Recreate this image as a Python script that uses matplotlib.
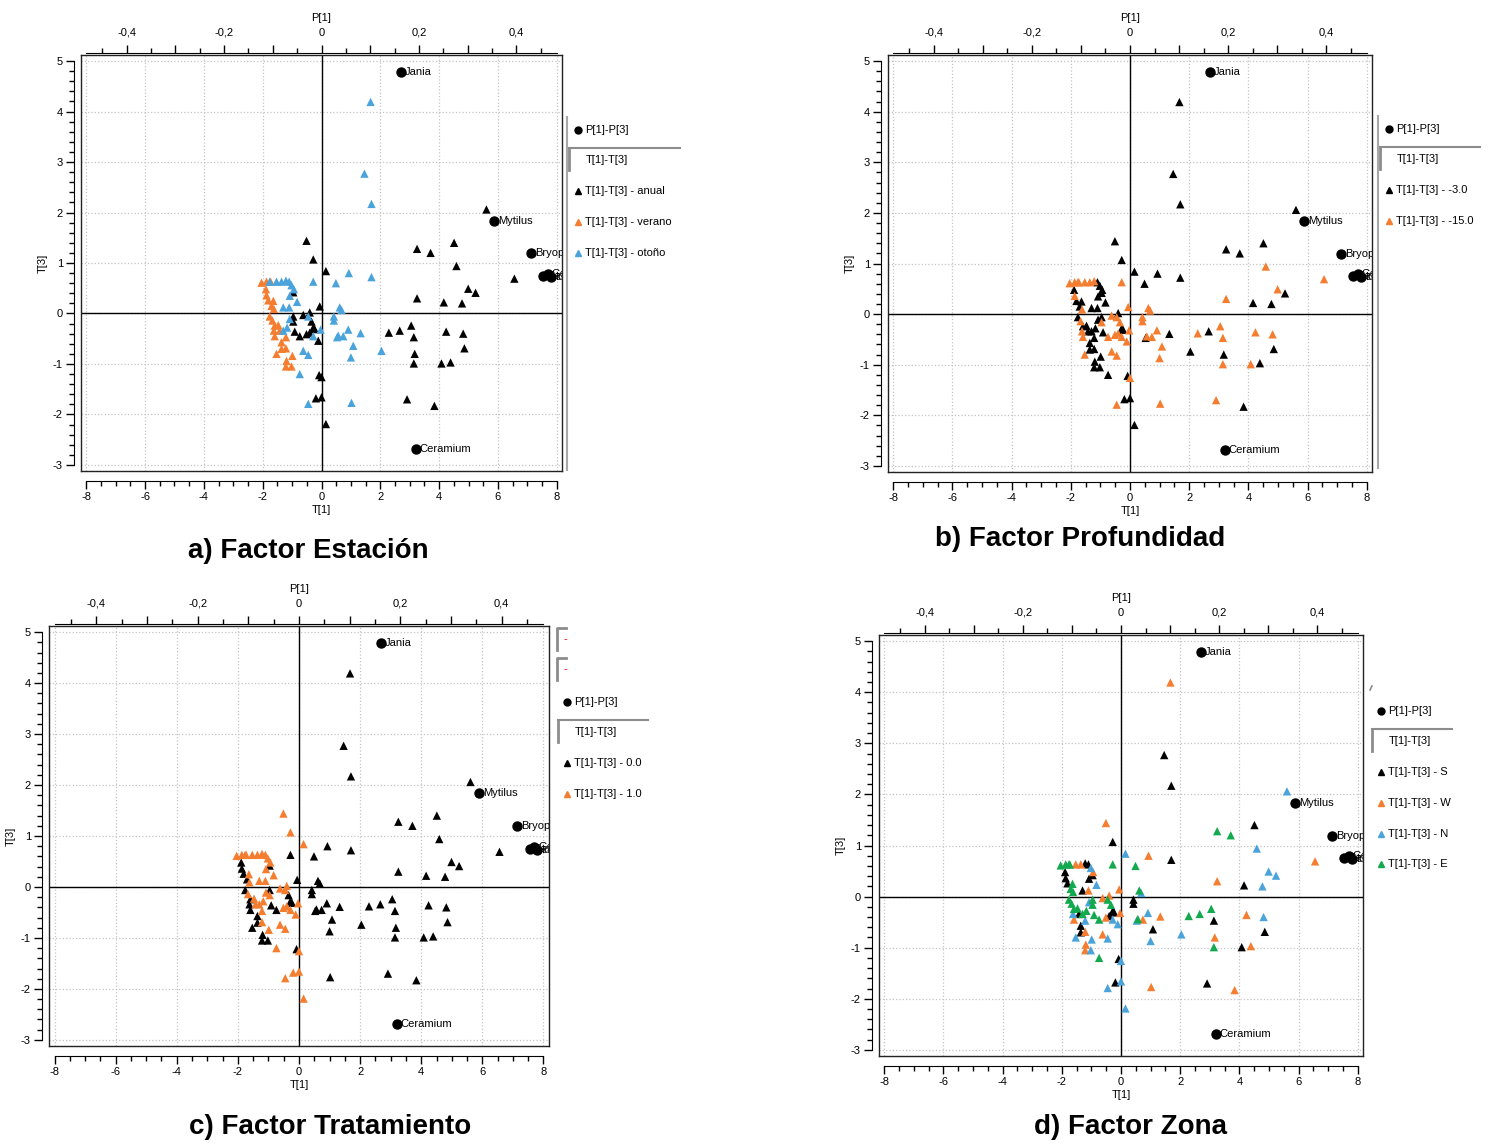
import numpy as np
import matplotlib
matplotlib.use('Agg')
import matplotlib.pyplot as plt
from matplotlib.lines import Line2D
from matplotlib.ticker import MultipleLocator, FuncFormatter
from matplotlib.transforms import offset_copy

W, H = 1491, 1144
plt.rcParams['font.family'] = ['Liberation Sans Narrow', 'Liberation Sans', 'DejaVu Sans']
plt.rcParams['axes.unicode_minus'] = False

# Scores T[1], T[3] (same samples in every panel) -------------------------------------
# anual (46) / verano (25) / otoño (41)
score_t1 = [-0.51, -0.28, 0.15, -0.96, -0.06, -0.40, -0.62, -0.96, -0.96, -0.34,
            -0.28, -0.40, -0.51, -0.74, -0.91, -0.11, -0.23, -0.08, 0.00, -0.19,
            0.00, 0.15, 5.61, 3.25, 3.71, 4.51, 4.59, 6.56, 4.99, 5.24,
            3.25, 4.16, 4.78, 2.29, 2.66, 3.05, 3.14, 4.24, 4.82, 4.86,
            3.17, 3.14, 4.08, 4.39, 2.91, 3.84,
            -2.04, -1.87, -1.73, -1.89, -1.87, -1.81, -1.64, -1.70, -1.62, -1.76,
            -1.67, -1.59, -1.47, -1.62, -1.42, -1.59, -1.21, -1.36, -1.36, -1.21,
            -1.53, -0.99, -1.19, -1.21, -1.02,
            -1.76, -1.53, -1.36, -1.21, -1.10, -1.02, -0.94, -1.08, -0.83, -1.30,
            -1.10, -0.28, 0.49, 0.93, 1.70, 0.62, 0.68, 0.42, 0.42, -1.08,
            -1.17, -1.30, -0.45, -0.03, -0.28, 0.57, 0.74, 0.91, 0.53, 1.08,
            1.33, 2.04, -0.62, -0.45, 1.00, -0.74, -0.45, 1.02, 1.67, 1.46, 1.70]
score_t3 = [1.44, 1.07, 0.84, 0.42, 0.14, 0.02, -0.03, -0.06, -0.16, -0.16,
            -0.28, -0.38, -0.41, -0.45, -0.36, -0.54, -0.31, -1.22, -1.26, -1.68,
            -1.66, -2.19, 2.06, 1.28, 1.20, 1.40, 0.94, 0.69, 0.49, 0.41,
            0.30, 0.22, 0.20, -0.38, -0.34, -0.24, -0.47, -0.36, -0.40, -0.69,
            -0.80, -0.99, -0.99, -0.97, -1.70, -1.83,
            0.61, 0.63, 0.63, 0.48, 0.36, 0.26, 0.25, 0.15, 0.09, -0.06,
            -0.14, -0.24, -0.23, -0.34, -0.34, -0.45, -0.47, -0.57, -0.70, -0.69,
            -0.80, -0.84, -0.94, -1.05, -1.05,
            0.63, 0.63, 0.63, 0.65, 0.63, 0.56, 0.48, 0.35, 0.23, 0.12,
            0.12, 0.63, 0.60, 0.80, 0.72, 0.12, 0.07, -0.06, -0.14, -0.11,
            -0.28, -0.34, -0.06, -0.32, -0.45, -0.44, -0.45, -0.32, -0.47, -0.64,
            -0.39, -0.74, -0.74, -0.82, -0.87, -1.20, -1.79, -1.77, 4.19, 2.77, 2.17]

estacion = ['anual'] * 46 + ['verano'] * 25 + ['otoño'] * 41

profundidad = [-3, -3, -3, -3, -15, -3, -15, -3, -15, -15,
               -3, -15, -15, -15, -3, -15, -3, -3, -15, -3,
               -3, -3, -3, -3, -3, -3, -15, -15, -15, -3,
               -15, -3, -3, -15, -3, -15, -15, -15, -15, -3,
               -3, -15, -15, -3, -15, -3,
               -15, -15, -15, -3, -15, -3, -3, -3, -15, -3,
               -15, -3, -3, -15, -3, -15, -3, -3, -3, -3,
               -15, -3, -3, -3, -3,
               -15, -15, -15, -15, -3, -3, -3, -3, -3, -3,
               -3, -15, -3, -3, -3, -15, -15, -15, -15, -3,
               -3, -3, -15, -15, -15, -15, -15, -15, -3, -15,
               -3, -3, -15, -15, -15, -3, -15, -15, -3, -3, -3]

tratamiento = [1, 1, 1, 0, 0, 1, 1, 0, 1, 0,
               0, 1, 1, 0, 0, 1, 0, 0, 1, 1,
               1, 1, 0, 0, 0, 0, 0, 0, 0, 0,
               0, 0, 0, 0, 0, 0, 0, 0, 0, 0,
               0, 0, 0, 0, 0, 0,
               1, 1, 1, 0, 0, 0, 1, 0, 1, 0,
               1, 0, 1, 0, 1, 0, 1, 0, 0, 1,
               0, 1, 0, 0, 0,
               1, 1, 1, 1, 1, 1, 1, 1, 1, 1,
               1, 0, 0, 0, 0, 0, 0, 0, 0, 1,
               1, 1, 1, 1, 1, 0, 0, 0, 0, 0,
               0, 0, 1, 1, 0, 1, 1, 0, 0, 0, 0]

zona = list('WSNSWWWEEE' 'SSWEENSSNS' 'NNNEESNWNN' 'WSNEEESWNS' 'WESWSW'
            'EEESSSEEEE' 'EEENSWNSSW' 'NNWWN'
            'EWWSSNWSNS' 'WEEWSENSSN' 'EEEWNEWNNS' 'WNWNNENWWSS')

# Loadings P[1]-P[3], placed on the T scale of the plot (names cut by the frame)
load_names = ['Jania', 'Mytilus', 'Bryop', 'Sa', 'Ge', 'La', 'Ceramium']
load_x = [2.69, 5.88, 7.14, 7.55, 7.69, 7.80, 3.20]
load_y = [4.78, 1.84, 1.19, 0.75, 0.79, 0.73, -2.69]

XLIM = (-8.18, 8.18)
YLIM = (-3.12, 5.12)
P_RATIO = 16.57      # T[1] units per P[1] unit on the top scale

BLACK, ORANGE, BLUE, GREEN = '#000000', '#f47d30', '#4ba3dc', '#12a94f'

fig = plt.figure(figsize=(W / 100, H / 100), dpi=100)


def fx(x):
    return x / W


def fy(y):
    return 1 - y / H


def p_fmt(v, pos):
    k = int(round(v * 10))
    if k % 2:
        return ''
    if k == 0:
        return '0'
    return ('%.1f' % (k / 10)).replace('.', ',')


def panel(frame, labels, groups, colors):
    l, t, w, h = frame
    pos = [l / W, 1 - (t + h) / H, w / W, h / H]

    ax = fig.add_axes(pos)
    ax.set_xlim(XLIM)
    ax.set_ylim(YLIM)
    ax.set_xticks(np.arange(-8, 9, 2))
    ax.set_yticks(np.arange(-3, 6, 1))
    ax.tick_params(length=0, labelbottom=False, labelleft=False)
    ax.grid(True, color='#c4c4c4', linestyle=':', linewidth=0.9)
    for s in ax.spines.values():
        s.set_linewidth(1.0)
        s.set_color('#222222')
    ax.axhline(0, color='black', lw=1.0, zorder=2)
    ax.axvline(0, color='black', lw=1.0, zorder=2)

    t1 = np.array(score_t1)
    t3 = np.array(score_t3)
    lab = np.array(labels)
    for g, c in zip(groups, colors):
        m = lab == g
        ax.scatter(t1[m], t3[m], marker='^', s=36, color=c, edgecolors='none', zorder=3)

    ax.scatter(load_x, load_y, s=42, color='black', zorder=4)
    tr = offset_copy(ax.transData, fig=fig, x=4, y=0, units='dots')
    for x, y, n in zip(load_x, load_y, load_names):
        ax.text(x, y, n, transform=tr, fontsize=8, va='center', ha='left',
                clip_on=True, zorder=5)

    # bottom / left scales, offset from the frame
    sa = fig.add_axes(pos, facecolor='none')
    sa.set_xlim(XLIM)
    sa.set_ylim(YLIM)
    sa.spines['top'].set_visible(False)
    sa.spines['right'].set_visible(False)
    sa.spines['bottom'].set_position(('outward', 7))
    sa.spines['bottom'].set_bounds(-8, 8)
    sa.spines['left'].set_position(('outward', 5))
    sa.spines['left'].set_bounds(-3, 5)
    sa.xaxis.set_major_locator(MultipleLocator(2))
    sa.xaxis.set_minor_locator(MultipleLocator(0.5))
    sa.yaxis.set_major_locator(MultipleLocator(1))
    sa.yaxis.set_minor_locator(MultipleLocator(0.2))
    sa.tick_params(which='major', length=6, width=1, labelsize=8, pad=2)
    sa.tick_params(which='minor', length=3.5, width=1)
    sa.set_xlabel('T[1]', fontsize=8, labelpad=2)
    sa.set_ylabel('T[3]', fontsize=8, labelpad=4)

    # top scale P[1]
    ta = fig.add_axes(pos, facecolor='none')
    ta.set_xlim(XLIM[0] / P_RATIO, XLIM[1] / P_RATIO)
    for k in ['bottom', 'left', 'right']:
        ta.spines[k].set_visible(False)
    ta.spines['top'].set_position(('outward', 1.5))
    ta.spines['top'].set_bounds(-8 / P_RATIO, 8 / P_RATIO)
    ta.xaxis.tick_top()
    ta.xaxis.set_label_position('top')
    ta.xaxis.set_major_locator(MultipleLocator(0.1))
    ta.xaxis.set_minor_locator(MultipleLocator(0.05))
    ta.xaxis.set_major_formatter(FuncFormatter(p_fmt))
    ta.set_yticks([])
    ta.tick_params(which='major', length=6, width=1, labelsize=8, pad=5)
    ta.tick_params(which='minor', length=3.5, width=1)
    ta.set_xlabel('P[1]', fontsize=8, labelpad=5)
    return ax


def legend(lx, py, sep_x2, texts, colors, line=None, step=30.8):
    if line is not None:
        fig.add_artist(Line2D([fx(lx), fx(lx)], [fy(line[0]), fy(line[1])],
                              color='#a8a8a8', lw=1.5))
    fig.add_artist(Line2D([fx(lx + 11)], [fy(py)], marker='o', ms=5, color='black', lw=0))
    fig.text(fx(lx + 18), fy(py), 'P[1]-P[3]', fontsize=8, va='center')
    fig.add_artist(Line2D([fx(lx + 2), fx(sep_x2)], [fy(py + 18), fy(py + 18)],
                          color='#8c8c8c', lw=1.5))
    fig.add_artist(Line2D([fx(lx + 2), fx(lx + 2)], [fy(py + 18), fy(py + 40)],
                          color='#8c8c8c', lw=2))
    fig.text(fx(lx + 19), fy(py + 30), 'T[1]-T[3]', fontsize=8, va='center')
    for i, (t, c) in enumerate(zip(texts, colors)):
        y = py + 61 + i * step
        fig.add_artist(Line2D([fx(lx + 11)], [fy(y)], marker='^', ms=4.5, color=c, lw=0))
        fig.text(fx(lx + 18), fy(y), t, fontsize=8, va='center')


# a) Estación
panel((81, 55, 481, 416), estacion, ['anual', 'verano', 'otoño'], [BLACK, ORANGE, BLUE])
legend(567, 130, 680, ['T[1]-T[3] - anual', 'T[1]-T[3] - verano', 'T[1]-T[3] - otoño'],
       [BLACK, ORANGE, BLUE], line=(117, 470))

# b) Profundidad
panel((888, 55, 484, 417), profundidad, [-3, -15], [BLACK, ORANGE])
legend(1378, 129, 1480, ['T[1]-T[3] - -3.0', 'T[1]-T[3] - -15.0'], [BLACK, ORANGE],
       line=(116, 468))

# c) Tratamiento
panel((49, 626, 500, 420), tratamiento, [0, 1], [BLACK, ORANGE])
legend(556, 702, 648, ['T[1]-T[3] - 0.0', 'T[1]-T[3] - 1.0'], [BLACK, ORANGE])
for yb in [628, 658]:
    fig.add_artist(Line2D([fx(557), fx(557), fx(566)], [fy(yb + 22), fy(yb), fy(yb)],
                          color='#8c8c8c', lw=2))
    fig.text(fx(563), fy(yb + 11), '-', color='red', fontsize=8, va='center')

# d) Zona
panel((879, 635, 484, 421), zona, ['S', 'W', 'N', 'E'], [BLACK, ORANGE, BLUE, GREEN])
legend(1370, 711, 1452, ['T[1]-T[3] - S', 'T[1]-T[3] - W', 'T[1]-T[3] - N', 'T[1]-T[3] - E'],
       [BLACK, ORANGE, BLUE, GREEN])
fig.add_artist(Line2D([fx(1370), fx(1372)], [fy(690), fy(686)], color='#8c8c8c', lw=1.2))

# titles
for txt, x, y in [('a) Factor Estación', 308, 551), ('b) Factor Profundidad', 1080, 539),
                  ('c) Factor Tratamiento', 330, 1127), ('d) Factor Zona', 1130, 1127)]:
    fig.text(fx(x), fy(y), txt, fontsize=20, fontweight='bold', ha='center', va='center',
             family=['Liberation Sans', 'DejaVu Sans'])

fig.savefig('out.png', dpi=100)
